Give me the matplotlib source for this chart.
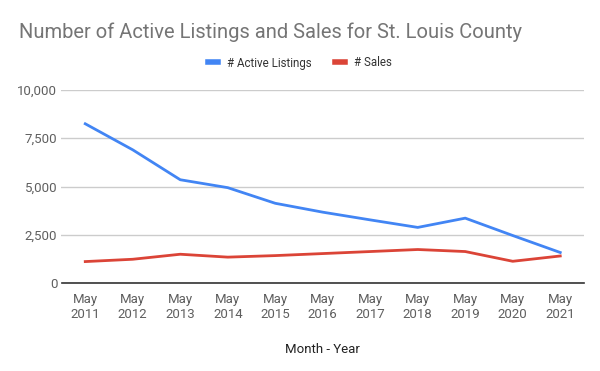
import numpy as np
import matplotlib.pyplot as plt
from matplotlib.ticker import FuncFormatter

# data
years = ["2011", "2012", "2013", "2014", "2015", "2016", "2017", "2018", "2019", "2020", "2021"]
active_listings = [8250, 6900, 5350, 4940, 4130, 3670, 3270, 2880, 3360, 2460, 1580]
sales = [1110, 1230, 1490, 1340, 1420, 1525, 1630, 1735, 1630, 1125, 1400]

plt.rcParams['font.family'] = ['Roboto', 'DejaVu Sans']

fig = plt.figure(figsize=(6, 3.71), dpi=100)
ax = fig.add_axes([61.5 / 600, 1 - 283 / 371, (584 - 61.5) / 600, (283 - 90) / 371])

x = np.arange(len(years))
ax.plot(x, active_listings, color='#4285F4', linewidth=2, label='# Active Listings')
ax.plot(x, sales, color='#DB4437', linewidth=2, label='# Sales')

ax.set_xlim(-0.5, 10.5)
ax.set_ylim(0, 10000)
ax.set_yticks([0, 2500, 5000, 7500, 10000])
ax.yaxis.set_major_formatter(FuncFormatter(lambda v, p: f"{int(v):,}"))
ax.set_xticks(x)
ax.set_xticklabels(["May\n" + y for y in years])

ax.grid(axis='y', color='#cccccc', linewidth=1)
ax.set_axisbelow(True)
for s in ['top', 'right', 'left']:
    ax.spines[s].set_visible(False)
ax.spines['bottom'].set_color('#333333')
ax.spines['bottom'].set_linewidth(1.2)
ax.tick_params(length=0, labelsize=9.5, labelcolor='#5f5f5f', pad=7)
ax.tick_params(axis='y', pad=3)

ax.set_xlabel("Month - Year", fontsize=9.5, color='#222222', labelpad=16)

fig.text(19 / 600, 1 - 32 / 371, "Number of Active Listings and Sales for St. Louis County",
         fontsize=14.5, color='#757575', va='center', ha='left')

fig.legend(loc='center', bbox_to_anchor=(0.5, 1 - 63 / 371), ncol=2, frameon=False,
           fontsize=8.3, labelcolor='#333333', handlelength=0.9, handletextpad=0.8,
           columnspacing=2.0)
for line in fig.legends[0].get_lines():
    line.set_linewidth(4)

plt.savefig('out.png')
